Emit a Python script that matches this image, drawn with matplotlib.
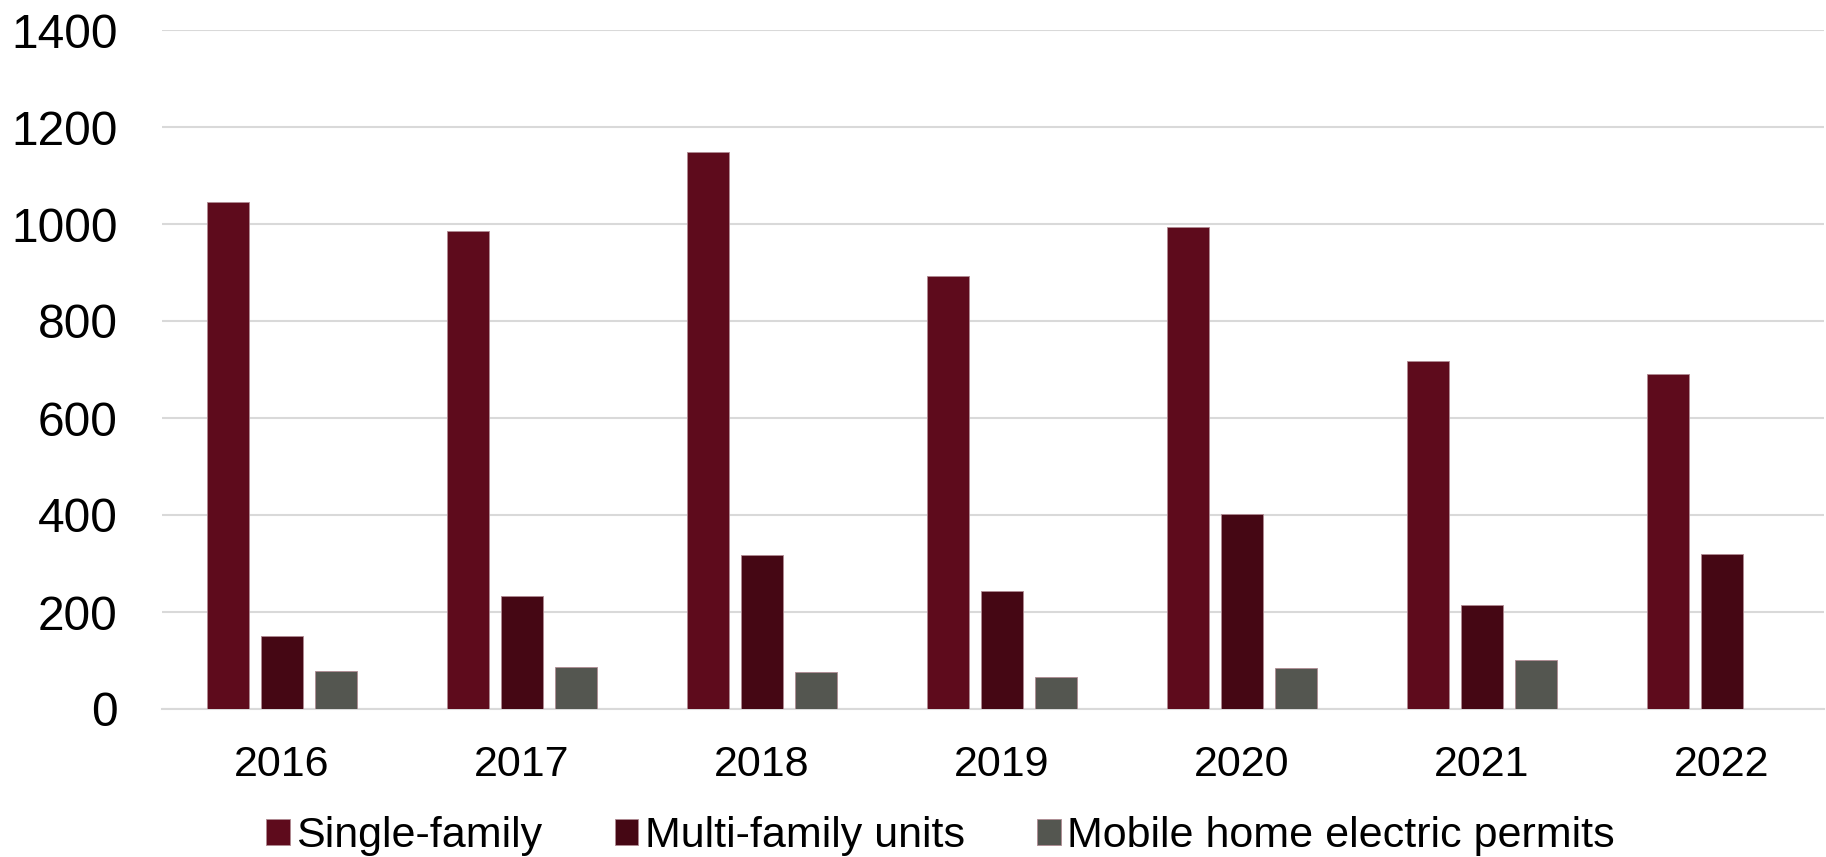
import numpy as np
import matplotlib
matplotlib.use("Agg")
import matplotlib.pyplot as plt

plt.rcParams['font.family'] = ['Liberation Sans', 'DejaVu Sans']

years = ['2016', '2017', '2018', '2019', '2020', '2021', '2022']
single_family = [1045, 985, 1148, 893, 994, 718, 691]
multi_family = [151, 233, 317, 243, 403, 214, 320]
mobile_home = [78, 86, 77, 67, 84, 101, 0]

colors = ['#5E0B1C', '#450714', '#545650']
labels = ['Single-family', 'Multi-family units', 'Mobile home electric permits']

W, H = 1826, 857
fig = plt.figure(figsize=(W / 100, H / 100), dpi=100)
ax = fig.add_axes([162 / W, (H - 709) / H, (1824 - 162) / W, (709 - 30) / H])

x = np.arange(len(years))
bw = 0.175
step = 0.223
for i, (vals, c, lab) in enumerate(zip([single_family, multi_family, mobile_home], colors, labels)):
    ax.bar(x + (i - 1) * step, vals, width=bw, color=c, label=lab,
           edgecolor='#B08A92', linewidth=0.6, zorder=3)

ax.set_ylim(0, 1400)
ax.set_yticks(range(0, 1401, 200))
ax.set_xlim(-0.5, -0.5 + (1824 - 162) / 240)
ax.set_xticks(x)
ax.set_xticklabels(years)
ax.grid(axis='y', color='#D9D9D9', linewidth=1.5, zorder=0)
for s in ['top', 'right', 'left']:
    ax.spines[s].set_visible(False)
ax.spines['bottom'].set_color('#D9D9D9')
ax.spines['bottom'].set_linewidth(1.5)
ax.tick_params(axis='y', length=0, labelsize=34.5, pad=32)
ax.tick_params(axis='x', length=0, labelsize=31, pad=26)

fig.legend(loc='center', bbox_to_anchor=(0.515, (H - 836) / H), ncol=3, frameon=False,
           fontsize=31, handlelength=0.55, handleheight=0.55, handletextpad=0.15,
           columnspacing=1.68)

fig.savefig('out.png', dpi=100)
